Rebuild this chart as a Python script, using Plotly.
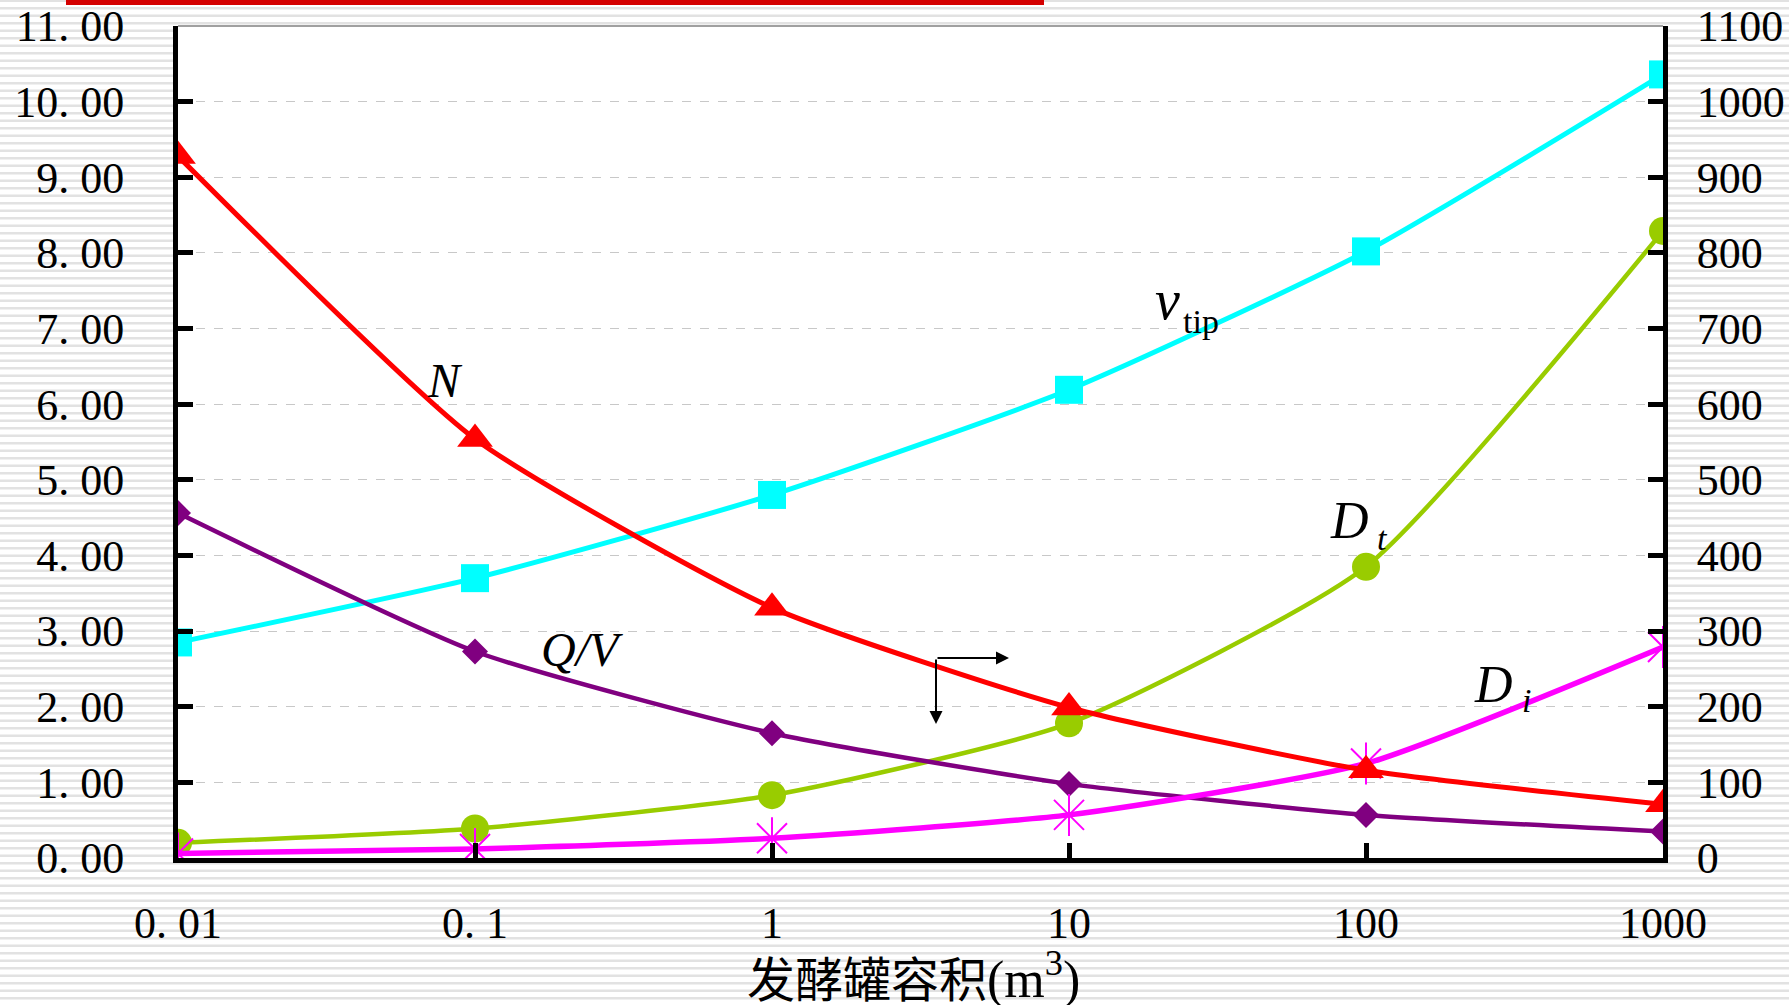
import plotly.graph_objects as go

# Fermenter volume (m^3), log scale
volume = [0.01, 0.1, 1, 10, 100, 1000]

# Left axis series
q_over_v = [4.56, 2.73, 1.65, 0.98, 0.57, 0.35]
v_tip = [2.85, 3.70, 4.80, 6.19, 8.02, 10.36]
d_t = [0.20, 0.39, 0.83, 1.78, 3.85, 8.29]
d_i = [0.06, 0.12, 0.26, 0.57, 1.25, 2.79]

# Right axis series: agitator speed
n_speed = [928, 554, 331, 199, 116, 71]

left_ticks = list(range(0, 12))
left_labels = ["%d. 00" % v for v in left_ticks]
right_ticks = list(range(0, 1101, 100))
right_labels = [str(v) for v in right_ticks]
x_ticks = [0.01, 0.1, 1, 10, 100, 1000]
x_labels = ["0. 01", "0. 1", "1", "10", "100", "1000"]

W, H = 1789, 1005
L, R, T, B = 178, 1663, 26, 858


def px(x):
    return (x - L) / (R - L)


def py(y):
    return (B - y) / (B - T)


SERIF = "Liberation Serif, Times New Roman, serif"
SMOOTH = 0.55

fig = go.Figure()

fig.add_trace(go.Scatter(
    x=volume, y=v_tip, mode="lines+markers",
    line=dict(color="#00FFFF", width=5, shape="spline", smoothing=SMOOTH),
    marker=dict(symbol="square", size=28, color="#00FFFF"), showlegend=False))
fig.add_trace(go.Scatter(
    x=volume, y=d_t, mode="lines+markers",
    line=dict(color="#99CC00", width=4.5, shape="spline", smoothing=SMOOTH),
    marker=dict(symbol="circle", size=28, color="#99CC00"), showlegend=False))
fig.add_trace(go.Scatter(
    x=volume, y=q_over_v, mode="lines+markers",
    line=dict(color="#800080", width=4.5, shape="spline", smoothing=SMOOTH),
    marker=dict(symbol="diamond", size=20, color="#800080"), showlegend=False))
fig.add_trace(go.Scatter(
    x=volume, y=d_i, mode="lines",
    line=dict(color="#FF00FF", width=5.5, shape="spline", smoothing=SMOOTH),
    showlegend=False))
fig.add_trace(go.Scatter(
    x=volume, y=d_i, mode="markers",
    marker=dict(symbol="x-thin-open", size=30, color="#FF00FF", line=dict(color="#FF00FF", width=2)),
    showlegend=False))
fig.add_trace(go.Scatter(
    x=volume, y=d_i, mode="markers",
    marker=dict(symbol="line-ns-open", size=30, color="#FF00FF", line=dict(color="#FF00FF", width=2)),
    showlegend=False))
fig.add_trace(go.Scatter(
    x=volume, y=n_speed, yaxis="y2", mode="lines+markers",
    line=dict(color="#FF0000", width=5, shape="spline", smoothing=SMOOTH),
    marker=dict(symbol="triangle-up", size=31, color="#FF0000"), showlegend=False))

# Striped backdrop outside the plotting area
segs = []
y = 0.8
while y < H:
    if T - 1 <= y <= B + 3:
        segs.append("M%.5f,%.5f L%.5f,%.5f" % (px(0), py(y), px(L - 3), py(y)))
        segs.append("M%.5f,%.5f L%.5f,%.5f" % (px(R + 3), py(y), px(W), py(y)))
    else:
        segs.append("M%.5f,%.5f L%.5f,%.5f" % (px(0), py(y), px(W), py(y)))
    y += 7.5

shapes = [
    dict(type="path", xref="paper", yref="paper", path=" ".join(segs),
         line=dict(color="#E2E2E2", width=2.5), layer="below"),
    dict(type="rect", xref="paper", yref="paper", x0=px(66), x1=px(1044), y0=py(5), y1=py(0),
         fillcolor="#D40000", line=dict(width=0)),
    dict(type="line", xref="paper", yref="paper", x0=0, x1=1, y0=1, y1=1,
         line=dict(color="#808080", width=1.5)),
]

annotations = [
    # curve labels
    dict(text="<i>N</i>", x=px(445), y=py(380), font=dict(size=48)),
    dict(text="<i>Q/V</i>", x=px(582), y=py(649), font=dict(size=48)),
    dict(text="<i>v</i>", x=px(1167), y=py(300), font=dict(size=56)),
    dict(text="tip", x=px(1201), y=py(322), font=dict(size=34)),
    dict(text="<i>D</i>", x=px(1349), y=py(520), font=dict(size=52)),
    dict(text="<i>t</i>", x=px(1382), y=py(538), font=dict(size=34)),
    dict(text="<i>D</i>", x=px(1493), y=py(684), font=dict(size=52)),
    dict(text="<i>i</i>", x=px(1526), y=py(700), font=dict(size=34)),
    # axis title
    dict(text="发酵罐容积<span style='font-family:Liberation Serif;font-size:52px'>(m<sup>3</sup>)</span>",
         x=px(913), y=py(976), font=dict(size=48, family="Noto Sans CJK SC")),
    # axis indicator arrows
    dict(text="", x=px(1009), y=py(658), ax=-73, ay=0, showarrow=True,
         arrowhead=2, arrowsize=1.3, arrowwidth=2, arrowcolor="black", standoff=0),
    dict(text="", x=px(936), y=py(724), ax=0, ay=-66, showarrow=True,
         arrowhead=2, arrowsize=1.3, arrowwidth=2, arrowcolor="black", standoff=0),
]
for a in annotations:
    a.setdefault("xref", "paper")
    a.setdefault("yref", "paper")
    a.setdefault("xanchor", "center")
    a.setdefault("yanchor", "middle")
    a.setdefault("showarrow", False)
    a.setdefault("font", {})
    a["font"].setdefault("family", SERIF)
    a["font"].setdefault("color", "black")

axis_common = dict(
    showline=True, linecolor="black", linewidth=5,
    ticks="inside", ticklen=15, tickwidth=5, tickcolor="black",
    tickfont=dict(family=SERIF, size=44, color="black"),
    zeroline=False, automargin=False,
)

fig.update_layout(
    width=W, height=H,
    margin=dict(l=L, r=W - R, t=T, b=H - B, autoexpand=False),
    paper_bgcolor="white", plot_bgcolor="white",
    font=dict(family=SERIF, color="black"),
    xaxis=dict(type="log", range=[-2, 3], tickvals=x_ticks, ticktext=x_labels,
               showgrid=False, ticklabelstandoff=22, **axis_common),
    yaxis=dict(range=[0, 11], tickvals=left_ticks, ticktext=left_labels,
               showgrid=True, gridcolor="#C8C8C8", gridwidth=1, griddash="dash",
               ticklabelstandoff=40, **axis_common),
    yaxis2=dict(range=[0, 1100], tickvals=right_ticks, ticktext=right_labels,
                overlaying="y", side="right", showgrid=False,
                ticklabelstandoff=20, **axis_common),
    shapes=shapes,
    annotations=annotations,
)

fig.write_html("out.html")
